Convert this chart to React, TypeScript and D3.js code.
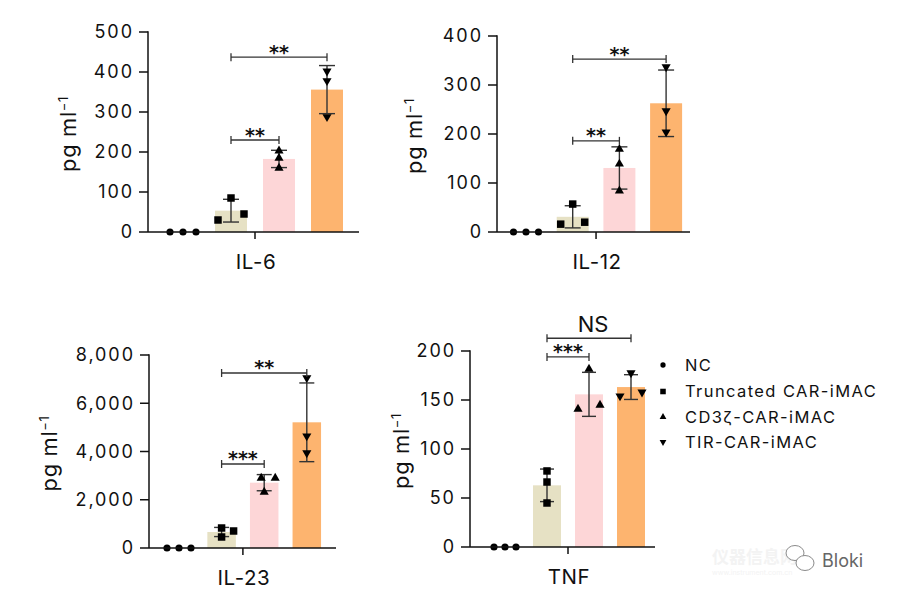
import React from "react";
import * as d3 from "d3";

// ---------- data ----------
const categories = ["NC", "Truncated CAR-iMAC", "CD3ζ-CAR-iMAC", "TIR-CAR-iMAC"];
const markerShapes = ["circle", "square", "triangle", "triangleDown"];

const il6Values = [[0, 0, 0], [30, 85, 45], [203, 185, 160], [402, 378, 288]];
const il12Values = [[0, 0, 0], [16, 57, 20], [169, 139, 84], [337, 247, 204]];
const il23Values = [[0, 0, 0], [829, 456, 705], [2901, 2901, 2321], [7050, 4640, 3940]];
const tnfValues = [[0, 0, 0], [77.6, 66.3, 44.9], [181.6, 140.8, 144.9], [154, 177.6, 158]];

const il6Ticks = [0, 100, 200, 300, 400, 500];
const il12Ticks = [0, 100, 200, 300, 400];
const il23Ticks = [0, 2000, 4000, 6000, 8000];
const tnfTicks = [0, 50, 100, 150, 200];

const il6Comparisons = [
  { from: 1, to: 3, y: 437, label: "**" },
  { from: 1, to: 2, y: 230, label: "**" },
];
const il12Comparisons = [
  { from: 1, to: 3, y: 353, label: "**" },
  { from: 1, to: 2, y: 186, label: "**" },
];
const il23Comparisons = [
  { from: 1, to: 3, y: 7254, label: "**" },
  { from: 1, to: 2, y: 3482, label: "***" },
];
const tnfComparisons = [
  { from: 1, to: 3, y: 213, label: "NS" },
  { from: 1, to: 2, y: 194, label: "***" },
];

// ---------- styles / layout ----------
const barColors = [null, "#E6E1C4", "#FDD6D7", "#FDB46F"];
const FONT = "Inter, 'DejaVu Sans', sans-serif";
const INK = "#111";
const ERR = "#333";

const panels = [
  {
    name: "IL-6", values: il6Values, ticks: il6Ticks, comps: il6Comparisons,
    axisX: 148, axisEnd: 359, yBottom: 232, yTop: 32, c0: 183, step: 48, barW: 32,
    titleOff: 80, cap: 8,
    jitter: [[-13, 0, 13], [-13, 0, 13], [0, 0, 0], [0, 0, 0]],
  },
  {
    name: "IL-12", values: il12Values, ticks: il12Ticks, comps: il12Comparisons,
    axisX: 497, axisEnd: 690, yBottom: 232, yTop: 36, c0: 526, step: 46.7, barW: 32,
    titleOff: 83, cap: 8,
    jitter: [[-12.5, 0, 12.5], [-12, 0, 12], [0, 0, 0], [0, 0, 0]],
  },
  {
    name: "IL-23", values: il23Values, ticks: il23Ticks, comps: il23Comparisons,
    axisX: 149, axisEnd: 336, yBottom: 548, yTop: 355, c0: 179, step: 42.6, barW: 28.5,
    titleOff: 100, cap: 7.5,
    jitter: [[-12, 0, 12], [0, 0, 12], [-3, 11, 0], [0, 0, 0]],
  },
  {
    name: "TNF", values: tnfValues, ticks: tnfTicks, comps: tnfComparisons,
    axisX: 470, axisEnd: 655, yBottom: 547, yTop: 351, c0: 505, step: 42, barW: 28,
    titleOff: 69, cap: 7,
    jitter: [[-11, 0, 11], [0, 0, 0], [0, -11, 11], [-11, 0, 11]],
  },
];

function symbolPath(shape: string, size: number) {
  if (shape === "circle") return d3.symbol().type(d3.symbolCircle).size(size)()!;
  if (shape === "square") return d3.symbol().type(d3.symbolSquare).size(size)()!;
  return d3.symbol().type(d3.symbolTriangle).size(size)()!;
}

function Marker({ shape, x, y, scale = 1 }: { shape: string; x: number; y: number; scale?: number }) {
  const sizes: Record<string, number> = { circle: 40, square: 56, triangle: 36, triangleDown: 36 };
  const d = symbolPath(shape, sizes[shape] * scale);
  const rot = shape === "triangleDown" ? " rotate(180)" : "";
  return <path d={d} transform={`translate(${x},${y})${rot}`} fill="#000" />;
}

function Panel({ p }: { p: any }) {
  const max = p.ticks[p.ticks.length - 1];
  const y = d3.scaleLinear().domain([0, max]).range([p.yBottom, p.yTop]);
  const pi = 1 - p.barW / p.step;
  const x = d3
    .scaleBand()
    .domain(categories)
    .range([p.c0 - p.step / 2, p.c0 - p.step / 2 + categories.length * p.step])
    .paddingInner(pi)
    .paddingOuter(pi / 2);
  const cx = (i: number) => (x(categories[i]) as number) + x.bandwidth() / 2;
  const fmt = d3.format(",");
  const midTick = (cx(0) + cx(categories.length - 1)) / 2;
  const yMid = (p.yTop + p.yBottom) / 2 + 2;
  const ls = 1.9;

  return (
    <g>
      {/* bars */}
      {p.values.map((vals: number[], i: number) => {
        const m = d3.mean(vals)!;
        if (!barColors[i] || m <= 0) return null;
        return (
          <rect key={"b" + i} x={x(categories[i])} y={y(m)} width={x.bandwidth()}
            height={y(0) - y(m)} fill={barColors[i]!} />
        );
      })}
      {/* error bars */}
      {p.values.map((vals: number[], i: number) => {
        const m = d3.mean(vals)!;
        const sd = d3.deviation(vals) || 0;
        if (sd === 0) return null;
        const c = cx(i);
        return (
          <g key={"e" + i} stroke={ERR} strokeWidth={1.4}>
            <line x1={c} x2={c} y1={y(m + sd)} y2={y(m - sd)} />
            <line x1={c - p.cap} x2={c + p.cap} y1={y(m + sd)} y2={y(m + sd)} />
            <line x1={c - p.cap} x2={c + p.cap} y1={y(m - sd)} y2={y(m - sd)} />
          </g>
        );
      })}
      {/* points */}
      {p.values.map((vals: number[], i: number) =>
        vals.map((v: number, j: number) => (
          <Marker key={`m${i}-${j}`} shape={markerShapes[i]} x={cx(i) + p.jitter[i][j]} y={y(v)} />
        ))
      )}
      {/* axes */}
      <g stroke={INK} strokeWidth={1.5} fill="none">
        <line x1={p.axisX} x2={p.axisX} y1={p.yTop - 0.75} y2={p.yBottom} />
        <line x1={p.axisX} x2={p.axisEnd} y1={p.yBottom} y2={p.yBottom} />
        <line x1={midTick} x2={midTick} y1={p.yBottom} y2={p.yBottom + 7} />
        {p.ticks.map((t: number) => (
          <line key={"t" + t} x1={p.axisX - 9} x2={p.axisX} y1={y(t)} y2={y(t)} />
        ))}
      </g>
      {p.ticks.map((t: number) => (
        <text key={"l" + t} x={p.axisX - 16 + ls} y={y(t)} dy="0.36em" textAnchor="end"
          fontFamily={FONT} fontSize={18} letterSpacing={ls} fill={INK}>
          {fmt(t)}
        </text>
      ))}
      {/* category label */}
      <text x={midTick + 1} y={p.yBottom + 37} textAnchor="middle" fontFamily={FONT}
        fontSize={20.5} letterSpacing={0.6} fill={INK}>
        {p.name}
      </text>
      {/* y title */}
      <text transform={`translate(${p.axisX - p.titleOff + 8},${yMid}) rotate(-90)`}
        textAnchor="middle" fontFamily={FONT} fontSize={22} letterSpacing={0.6} fill={INK}>
        pg ml<tspan fontSize={13} dy={-8}>−1</tspan>
      </text>
      {/* comparisons */}
      {p.comps.map((c: any, k: number) => {
        const x1 = cx(c.from);
        const x2 = cx(c.to);
        const yy = y(c.y);
        const isNS = c.label === "NS";
        return (
          <g key={"c" + k}>
            <g stroke={ERR} strokeWidth={1.3}>
              <line x1={x1} x2={x2} y1={yy} y2={yy} />
              <line x1={x1} x2={x1} y1={yy - 4} y2={yy + 4} />
              <line x1={x2} x2={x2} y1={yy - 4} y2={yy + 4} />
            </g>
            {isNS ? (
              <text x={(x1 + x2) / 2 + 4} y={yy - 6} textAnchor="middle" fontFamily={FONT}
                fontSize={22} fill={INK}>NS</text>
            ) : (
              <text x={(x1 + x2) / 2} y={yy + 1.5} textAnchor="middle" fontFamily="'DejaVu Sans', sans-serif"
                fontWeight="bold" fontSize={19} letterSpacing={0} fill={INK}>{c.label}</text>
            )}
          </g>
        );
      })}
    </g>
  );
}

function Legend() {
  const rows = [365, 391.5, 417, 442];
  return (
    <g>
      {categories.map((c, i) => (
        <g key={c}>
          <Marker shape={markerShapes[i]} x={663} y={rows[i]} scale={0.55} />
          <text x={685} y={rows[i]} dy="0.36em" fontFamily={FONT} fontSize={16.5}
            letterSpacing={1.4} fill={INK}>
            {c}
          </text>
        </g>
      ))}
    </g>
  );
}

function Watermark() {
  return (
    <g>
      <text x={712} y={563} fontFamily="'Noto Sans CJK SC', sans-serif" fontSize={17} fontWeight="bold"
        fill="#f3f3f3">仪器信息网</text>
      <text x={712} y={575} fontFamily={FONT} fontSize={7} fill="#f3f3f3">www.instrument.com.cn</text>
      <g fill="#fff" stroke="#8a8a8a" strokeWidth={1}>
        <ellipse cx={795} cy={553} rx={9} ry={7.5} />
        <ellipse cx={805} cy={563} rx={9} ry={7.5} />
      </g>
      <text x={822} y={567} fontFamily={FONT} fontSize={18} fill="#666">Bloki</text>
    </g>
  );
}

export default function App() {
  return (
    <svg width={898} height={595} viewBox="0 0 898 595"
      style={{ position: "absolute", left: 0, top: 0, background: "#fff" }}>
      <rect width={898} height={595} fill="#fff" />
      {panels.map((p) => (
        <Panel key={p.name} p={p} />
      ))}
      <Legend />
      <Watermark />
    </svg>
  );
}
